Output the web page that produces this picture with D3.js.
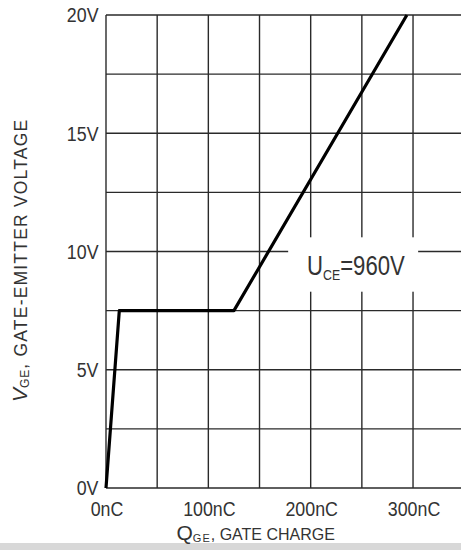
<!DOCTYPE html>
<html>
<head>
<meta charset="utf-8">
<script src="https://cdn.jsdelivr.net/npm/d3@7"></script>
<style>
  html, body { margin: 0; padding: 0; background: #fff; }
  svg { display: block; }
  text { font-family: "Liberation Sans", Arial, sans-serif; fill: #333; }
</style>
</head>
<body>
<svg id="chart" width="461" height="550"></svg>
<script>
// Data
const charge = [0, 13, 125, 294];        // nC
const voltage = [0, 7.5, 7.5, 20];       // V
const xTickValues = [0, 100, 200, 300];
const xTickLabels = ["0nC", "100nC", "200nC", "300nC"];
const yTickValues = [0, 5, 10, 15, 20];
const yTickLabels = ["0V", "5V", "10V", "15V", "20V"];
const xGrid = [0, 50, 100, 150, 200, 250, 300, 350];
const yGrid = [0, 2.5, 5, 7.5, 10, 12.5, 15, 17.5, 20];
const annotation = { x: 196.5, y: 9.0, main: "U", sub: "CE", rest: "=960V" };
const annotationBox = { x0: 178, x1: 305, y0: 8.3, y1: 10.6 };

const W = 461, H = 550;
const svg = d3.select("#chart");

const x = d3.scaleLinear().domain([0, 350]).range([106, 464.2]);
const y = d3.scaleLinear().domain([0, 20]).range([488, 15]);

// bottom gray strip
svg.append("rect").attr("x", 0).attr("y", 543).attr("width", W).attr("height", 7).attr("fill", "#d8d8d8");

// grid
const g = svg.append("g");
g.selectAll("line.v").data(xGrid).join("line")
  .attr("x1", d => x(d)).attr("x2", d => x(d))
  .attr("y1", y(20)).attr("y2", y(0))
  .attr("stroke", "#2a2a2a").attr("stroke-width", 1.4);
g.selectAll("line.h").data(yGrid).join("line")
  .attr("x1", x(0)).attr("x2", W)
  .attr("y1", d => y(d)).attr("y2", d => y(d))
  .attr("stroke", "#2a2a2a").attr("stroke-width", 1.4);

// white box behind annotation
svg.append("rect")
  .attr("x", x(annotationBox.x0)).attr("y", y(annotationBox.y1))
  .attr("width", x(annotationBox.x1) - x(annotationBox.x0))
  .attr("height", y(annotationBox.y0) - y(annotationBox.y1))
  .attr("fill", "#fff");

// curve
const line = d3.line().x((d, i) => x(charge[i])).y(d => y(d));
svg.append("path").datum(voltage)
  .attr("d", line)
  .attr("fill", "none").attr("stroke", "#000").attr("stroke-width", 3.2)
  .attr("stroke-linejoin", "round");

// tick labels
const sx = 0.89;
svg.selectAll("text.xt").data(xTickValues).join("text")
  .attr("class", "xt")
  .attr("transform", d => `translate(${x(d) + 1},516) scale(${sx},1)`)
  .attr("text-anchor", "middle")
  .attr("font-size", 20)
  .text((d, i) => xTickLabels[i]);
svg.selectAll("text.yt").data(yTickValues).join("text")
  .attr("class", "yt")
  .attr("transform", d => `translate(98.5,${y(d) + 7.3}) scale(${sx},1)`)
  .attr("text-anchor", "end")
  .attr("font-size", 20)
  .text((d, i) => yTickLabels[i]);

// annotation
const ann = svg.append("text")
  .attr("transform", `translate(${x(annotation.x)},${y(annotation.y)}) scale(0.82,1)`)
  .attr("font-size", 27);
ann.append("tspan").text(annotation.main);
ann.append("tspan").attr("font-size", 15).attr("dy", 5).text(annotation.sub);
ann.append("tspan").attr("dy", -5).text(annotation.rest);

// x axis title
const xt = svg.append("text").attr("x", 176.5).attr("y", 540).attr("font-size", 16);
xt.append("tspan").attr("font-size", 21).text("Q");
xt.append("tspan").attr("font-size", 11).attr("dy", 2).attr("letter-spacing", 1).text("GE");
xt.append("tspan").attr("dy", -2).text(", GATE CHARGE");

// y axis title
const yt = svg.append("text")
  .attr("transform", "translate(27,402) rotate(-90)")
  .attr("font-size", 17.5);
yt.append("tspan").attr("font-size", 21).attr("font-style", "italic").text("V");
yt.append("tspan").attr("font-size", 12).attr("dy", 2).attr("letter-spacing", 1).text("GE");
yt.append("tspan").attr("dy", -2).attr("letter-spacing", 1.2).text(", GATE-EMITTER VOLTAGE");
</script>
</body>
</html>
